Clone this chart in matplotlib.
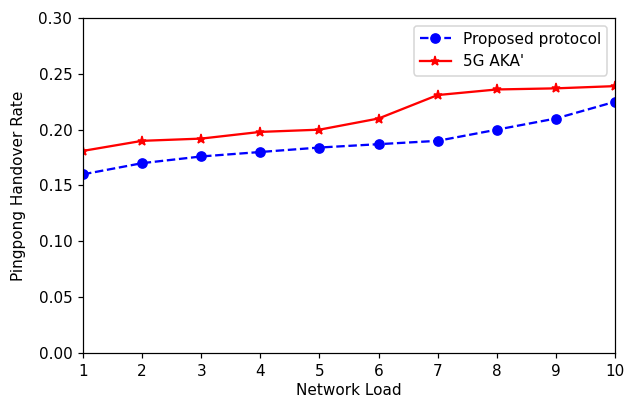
import matplotlib
matplotlib.use("Agg")
import matplotlib.pyplot as plt

load = [1, 2, 3, 4, 5, 6, 7, 8, 9, 10]
proposed = [0.160, 0.170, 0.176, 0.180, 0.184, 0.187, 0.190, 0.200, 0.210, 0.225]
aka = [0.181, 0.190, 0.192, 0.198, 0.200, 0.210, 0.231, 0.236, 0.237, 0.239]

DPI = 110
fig = plt.figure(figsize=(625/DPI, 398/DPI), dpi=DPI)
ax = fig.add_axes([83/625, 1-353/398, (615-83)/625, (353-18)/398])
ax.plot(load, proposed, 'b--o', label='Proposed protocol')
ax.plot(load, aka, 'r-*', label="5G AKA'")
ax.set_xlim(1, 10)
ax.set_ylim(0, 0.30)
ax.set_xticks(load)
ax.set_xlabel('Network Load', labelpad=3)
ax.set_ylabel('Pingpong Handover Rate', labelpad=8)
ax.legend(loc='upper right')
fig.savefig('out.png', dpi=DPI)
